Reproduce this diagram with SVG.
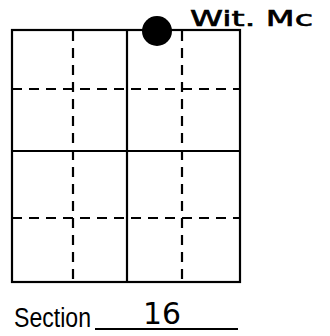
<svg xmlns="http://www.w3.org/2000/svg" width="330" height="336" viewBox="0 0 330 336">
<style>
.solid{stroke:#000;stroke-width:2.2;fill:none}
.dash{stroke:#000;stroke-width:2.2;fill:none;stroke-dasharray:10 7}
.hand{font-family:"DejaVu Sans",sans-serif;fill:#000}
.print{font-family:"Liberation Sans",Arial,sans-serif;fill:#000}
</style>
<rect width="330" height="336" fill="#fff"/>
<g id="grid">
<line class="dash" x1="73" y1="31" x2="73" y2="282"/>
<line class="dash" x1="182" y1="31" x2="182" y2="282"/>
<line class="dash" x1="12" y1="89" x2="240" y2="89"/>
<line class="dash" x1="12" y1="218" x2="240" y2="218"/>
<rect class="solid" x="12" y="30" width="228" height="252"/>
<line class="solid" x1="127" y1="30" x2="127" y2="282"/>
<line class="solid" x1="12" y1="151" x2="240" y2="151"/>
</g>
<g id="marker">
<circle cx="157" cy="31" r="15" fill="#000"/>
</g>
<g id="labels">
<text class="hand" x="190" y="26" font-size="21" stroke="#000" stroke-width="0.6" textLength="123" lengthAdjust="spacingAndGlyphs">Wit. Mc</text>
<text class="print" x="14" y="327" font-size="27" textLength="77" lengthAdjust="spacingAndGlyphs">Section</text>
<line class="solid" x1="95" y1="329" x2="238" y2="329" stroke-width="1.5"/>
<text class="hand" x="143" y="324" font-size="30" textLength="38" lengthAdjust="spacingAndGlyphs">16</text>
</g>
</svg>
